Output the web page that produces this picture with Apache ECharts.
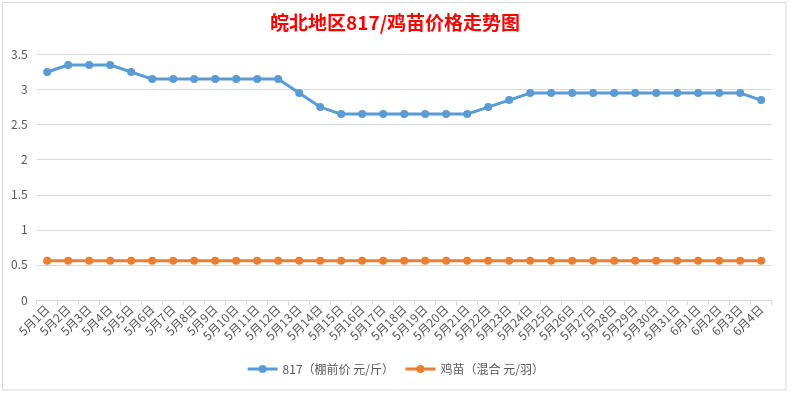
<!DOCTYPE html>
<html>
<head>
<meta charset="utf-8">
<script src="https://cdn.jsdelivr.net/npm/echarts@6/dist/echarts.min.js"></script>
<style>html,body{margin:0;padding:0;background:#fff}#c{width:790px;height:393px}</style>
</head>
<body>
<div id="c"></div>
<script>
const categories = ['5月1日','5月2日','5月3日','5月4日','5月5日','5月6日','5月7日','5月8日','5月9日','5月10日','5月11日','5月12日','5月13日','5月14日','5月15日','5月16日','5月17日','5月18日','5月19日','5月20日','5月21日','5月22日','5月23日','5月24日','5月25日','5月26日','5月27日','5月28日','5月29日','5月30日','5月31日','6月1日','6月2日','6月3日','6月4日'];
const price817 = [3.25,3.35,3.35,3.35,3.25,3.15,3.15,3.15,3.15,3.15,3.15,3.15,2.95,2.75,2.65,2.65,2.65,2.65,2.65,2.65,2.65,2.75,2.85,2.95,2.95,2.95,2.95,2.95,2.95,2.95,2.95,2.95,2.95,2.95,2.85];
const chickPrice = [0.56,0.56,0.56,0.56,0.56,0.56,0.56,0.56,0.56,0.56,0.56,0.56,0.56,0.56,0.56,0.56,0.56,0.56,0.56,0.56,0.56,0.56,0.56,0.56,0.56,0.56,0.56,0.56,0.56,0.56,0.56,0.56,0.56,0.56,0.56];
const seriesNames = ['817（棚前价 元/斤）','鸡苗（混合 元/羽）'];
const titleText = '皖北地区817/鸡苗价格走势图';

const chart = echarts.init(document.getElementById('c'), null, {renderer:'canvas'});
const font = '"Noto Sans CJK SC","Noto Sans",sans-serif';
chart.setOption({
  animation:false,
  backgroundColor:'#fff',
  title:{text:titleText,left:'center',top:8,textStyle:{color:'#ff0000',fontSize:19,fontWeight:'bold',fontFamily:font}},
  grid:{left:36.7,right:18.3,top:54.5,bottom:93,containLabel:false},
  legend:{bottom:13,left:'center',itemWidth:30,itemHeight:10,itemGap:10,
    lineStyle:{width:3},
    textStyle:{color:'#595959',fontSize:12,fontFamily:font},data:seriesNames},
  xAxis:{type:'category',data:categories,boundaryGap:true,
    axisLine:{lineStyle:{color:'#d9d9d9',width:1}},
    axisTick:{show:true,length:5,lineStyle:{color:'#d9d9d9'},alignWithLabel:false},
    axisLabel:{rotate:45,interval:0,color:'#595959',fontSize:12,fontFamily:font,margin:7}},
  yAxis:{type:'value',min:0,max:3.5,interval:0.5,
    axisLine:{show:false},axisTick:{show:false},
    splitLine:{lineStyle:{color:'#d9d9d9',width:1}},
    axisLabel:{color:'#595959',fontSize:12,fontFamily:font,margin:9}},
  graphic:[{type:'rect',shape:{x:2.5,y:2.5,width:783.5,height:387.5},style:{fill:'none',stroke:'#d9d9d9',lineWidth:1},silent:true}],
  series:[
    {name:seriesNames[0],type:'line',data:price817,symbol:'circle',symbolSize:8,
      lineStyle:{color:'#5b9bd5',width:3},itemStyle:{color:'#5b9bd5'}},
    {name:seriesNames[1],type:'line',data:chickPrice,symbol:'circle',symbolSize:8,
      lineStyle:{color:'#ed7d31',width:3},itemStyle:{color:'#ed7d31'}}
  ]
});
</script>
</body>
</html>
